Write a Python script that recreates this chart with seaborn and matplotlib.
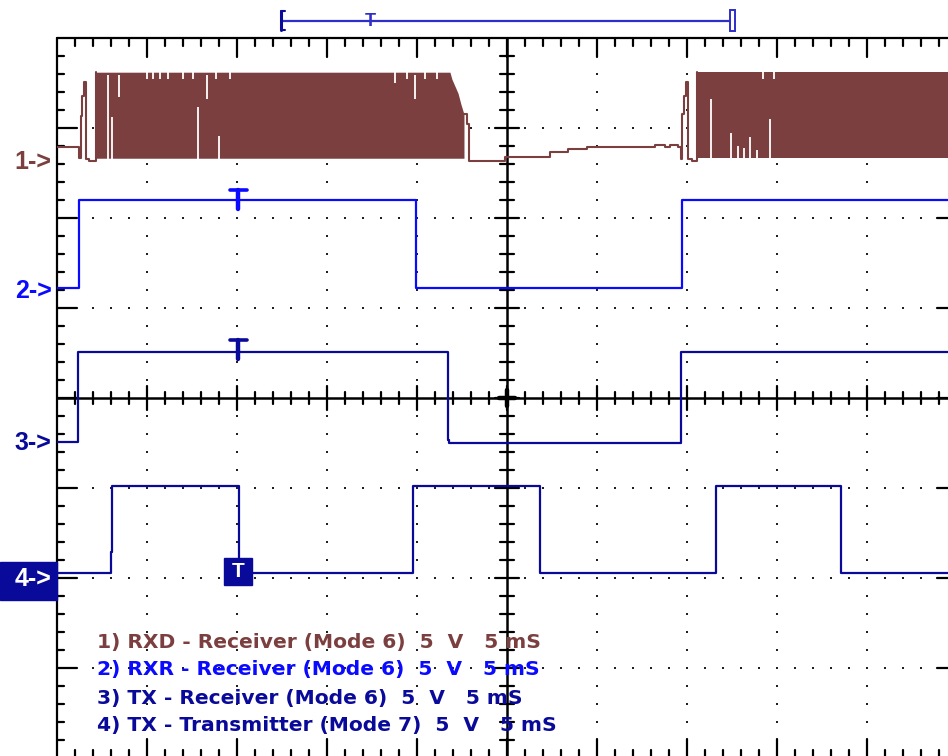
import numpy as np
import pandas as pd
import matplotlib.pyplot as plt
import seaborn as sns
from matplotlib.patches import Rectangle

# screen units: x in ms (5 ms/div, 10 div), y in V (5 V/div, 8 div), 0 at centre
BROWN = "#7B3F3F"
BLUE = "#0A0AFF"
NAVY = "#0A0A9A"
BAR = "#2E2EC8"

# channel ground markers (V on screen)
ch_labels = ["1->", "2->", "3->", "4->"]
ch_ground = [13.1, 5.95, -2.5, -10.05]
ch_colors = [BROWN, BLUE, NAVY, NAVY]

# ch1 RXD: slow parts as step edges, bursts as envelopes
ch1_pre_t = [0, 1.22, 1.31, 1.39, 1.5, 1.61, 1.78, 2.19]
ch1_pre_v = [0.83, 0.22, 2.56, 3.67, 4.44, 0.17, 0.06, 5.0]
ch1_mid_t = [22.61, 22.78, 22.89, 24.89, 27.39, 28.39, 29.44, 33.22, 33.78,
             34.06, 34.5, 34.67, 34.72, 34.83, 34.94, 35.06, 35.28, 35.56]
ch1_mid_v = [2.67, 2.11, 0.06, 0.28, 0.56, 0.72, 0.83, 0.94, 0.83,
             0.94, 0.83, 0.17, 2.67, 3.67, 4.44, 0.17, 0.06, 5.0]
burst1_t = [2.19, 21.83, 21.94, 22.11, 22.28, 22.44, 22.61]
burst1_top = [5.0, 5.0, 4.61, 4.22, 3.83, 3.22, 2.67]
burst2_t = [35.56, 50.0]
burst2_top = [5.0, 5.0]
burst_low = 0.22
# white gaps in the bursts
gap_t = [2.86, 3.06, 3.47, 7.83, 8.33, 9.0, 19.89,
         5.0, 5.33, 5.72, 6.17, 7.0, 7.56, 8.83, 9.61, 18.78, 19.44, 20.44, 21.11,
         36.33, 37.44, 37.83, 38.17, 38.5, 38.89, 39.61, 39.22, 39.83]
gap_lo = [0.17, 0.17, 3.61, 0.17, 3.5, 0.17, 3.5,
          4.6, 4.6, 4.6, 4.6, 4.6, 4.6, 4.6, 4.6, 4.4, 4.6, 4.6, 4.6,
          0.17, 0.17, 0.17, 0.17, 0.17, 0.17, 0.17, 4.6, 4.6]
gap_hi = [4.83, 2.5, 4.83, 3.06, 4.83, 1.44, 4.83,
          5.05, 5.05, 5.05, 5.05, 5.05, 5.05, 5.05, 5.05, 5.05, 5.05, 5.05, 5.05,
          3.5, 1.6, 0.9, 0.8, 1.4, 0.7, 2.4, 5.05, 5.05]

# ch2 RXR, ch3 TX receiver, ch4 TX transmitter (step edges)
ch2_t = [0, 1.22, 19.94, 34.72, 50]
ch2_v = [0.17, 5.06, 0.17, 5.06, 5.06]
ch3_t = [0, 1.17, 21.72, 21.8, 34.67, 50]
ch3_v = [0.05, 5.03, 0.17, 0.0, 5.03, 5.03]
ch4_t = [0, 3.0, 3.06, 10.1, 19.78, 26.83, 36.61, 43.56, 50]
ch4_v = [0.33, 1.5, 5.17, 0.33, 5.17, 0.33, 5.17, 0.33, 0.33]

legend_lines = [
    "1) RXD - Receiver (Mode 6)  5  V   5 mS",
    "2) RXR - Receiver (Mode 6)  5  V   5 mS",
    "3) TX - Receiver (Mode 6)  5  V   5 mS",
    "4) TX - Transmitter (Mode 7)  5  V   5 mS",
]
legend_y = [-13.56, -15.11, -16.72, -18.22]
trig_t = 10.08
window_t = [12.56, 37.39]
window_mark = 17.39

sns.set_style("white")
plt.rcParams["font.family"] = ["Liberation Sans", "DejaVu Sans"]

fig = plt.figure(figsize=(9.48, 7.56), dpi=100)
ax = fig.add_axes([57 / 948, -2 / 756, 900 / 948, 720 / 756])

# dotted graticule
gx, gy = [], []
for x in range(5, 50, 5):
    if x == 25:
        continue
    for y in range(-19, 20):
        gx.append(x)
        gy.append(y)
for y in range(-15, 20, 5):
    if y == 0:
        continue
    for x in range(1, 50):
        gx.append(x)
        gy.append(y)
ax.scatter(gx, gy, s=2.2, marker="s", color="#202020", linewidths=0, zorder=1)

# border and centre cross with ticks
k = "#000000"
ax.plot([0, 0], [-20, 20], color=k, lw=1.6, clip_on=False, zorder=2)
ax.plot([0, 50], [20, 20], color=k, lw=1.6, clip_on=False, zorder=2)
ax.plot([50, 50], [-20, 20], color=k, lw=1.6, clip_on=False, zorder=2)
ax.plot([25, 25], [-20, 20], color=k, lw=1.8, zorder=2)
ax.plot([0, 50], [0, 0], color=k, lw=1.8, zorder=2)
for y in range(-19, 20):
    major = y % 5 == 0
    ln = 1.1 if major else 0.39
    ax.plot([0, ln], [y, y], color=k, lw=1.6, zorder=2)
    ax.plot([50 - ln, 50], [y, y], color=k, lw=1.6, zorder=2)
    c = 0.67 if major else 0.39
    ax.plot([25 - c, 25 + c], [y, y], color=k, lw=1.6, zorder=2)
for x in range(1, 50):
    major = x % 5 == 0
    ln = 1.06 if major else 0.45
    ax.plot([x, x], [20 - ln, 20], color=k, lw=1.6, zorder=2)
    ax.plot([x, x], [-20, -20 + ln], color=k, lw=1.6, zorder=2)
    c = 0.67 if major else 0.36
    ax.plot([x, x], [-c, c], color=k, lw=1.6, zorder=2)
ax.plot([24.55, 25.45], [0, 0], color=k, lw=3.2, zorder=2)
ax.plot([25, 25], [-0.45, 0.45], color=k, lw=3.2, zorder=2)

# channel 1 bursts and slow parts
g1 = ch_ground[0]
ax.fill_between(burst1_t, burst_low + g1, np.array(burst1_top) + g1,
                color=BROWN, lw=0, zorder=3)
ax.fill_between(burst2_t, burst_low + g1, np.array(burst2_top) + g1,
                color=BROWN, lw=0, zorder=3)
ax.vlines(gap_t, np.array(gap_lo) + g1, np.array(gap_hi) + g1,
          color="white", lw=1.3, zorder=4)
for tt, vv in [(ch1_pre_t, ch1_pre_v), (ch1_mid_t, ch1_mid_v)]:
    df = pd.DataFrame({"t": tt, "v": np.array(vv) + g1})
    sns.lineplot(data=df, x="t", y="v", ax=ax, sort=False, estimator=None,
                 drawstyle="steps-post", color=BROWN, lw=1.5, zorder=5)

# digital channels
for tt, vv, g, col in [(ch2_t, ch2_v, ch_ground[1], BLUE),
                       (ch3_t, ch3_v, ch_ground[2], NAVY),
                       (ch4_t, ch4_v, ch_ground[3], NAVY)]:
    df = pd.DataFrame({"t": tt, "v": np.array(vv) + g})
    sns.lineplot(data=df, x="t", y="v", ax=ax, sort=False, estimator=None,
                 drawstyle="steps-post", color=col, lw=1.6, zorder=5)
ax.set_xlim(0, 50)
ax.set_ylim(-20, 20)
ax.axis("off")

# trigger marks
for g, top, col in [(ch_ground[1], 5.61, BLUE), (ch_ground[2], 5.72, NAVY)]:
    ax.plot([trig_t - 0.47, trig_t + 0.47], [g + top, g + top], color=col, lw=2.6, zorder=6)
    ax.plot([trig_t, trig_t], [g + top, g + top - 1.05], color=col, lw=3.2, zorder=6)
g4 = ch_ground[3]
ax.add_patch(Rectangle((9.28, g4 - 0.33), 1.55, 1.5, color=NAVY, zorder=6))
ax.text(10.06, g4 + 0.42, "T", color="white", fontsize=15, fontweight="bold",
        ha="center", va="center", zorder=7)

# ground markers
for lab, g, col in zip(ch_labels, ch_ground, ch_colors):
    if lab == "4->":
        ax.add_patch(Rectangle((-3.17, g - 1.17), 3.17, 2.1, color=NAVY,
                               clip_on=False, zorder=6))
        col = "white"
    ax.text(-0.3, g, lab, color=col, fontsize=18, fontweight="bold",
            ha="right", va="center", clip_on=False, zorder=7)

# window bar above the screen
ax.plot(window_t, [20.94, 20.94], color=BAR, lw=1.6, clip_on=False)
ax.plot([window_t[0] - 0.1, window_t[0] - 0.1], [20.42, 21.5], color=NAVY, lw=2.2, clip_on=False)
ax.plot([window_t[0] - 0.1, window_t[0] + 0.1], [20.42, 20.42], color=NAVY, lw=1.5, clip_on=False)
ax.plot([window_t[0] - 0.1, window_t[0] + 0.1], [21.5, 21.5], color=NAVY, lw=1.5, clip_on=False)
ax.add_patch(Rectangle((window_t[1], 20.4), 0.25, 1.15, facecolor="white",
                       edgecolor=BAR, lw=1.4, clip_on=False))
ax.text(window_mark, 20.94, "T", color=BAR, fontsize=13, fontweight="bold",
        ha="center", va="center", clip_on=False)

# channel captions
for line, y, col in zip(legend_lines, legend_y, [BROWN, BLUE, NAVY, NAVY]):
    ax.text(2.22, y, line, color=col, fontsize=14.6, fontweight="bold",
            family="DejaVu Sans", ha="left", va="center", zorder=7)

fig.savefig("out.png", dpi=100)
